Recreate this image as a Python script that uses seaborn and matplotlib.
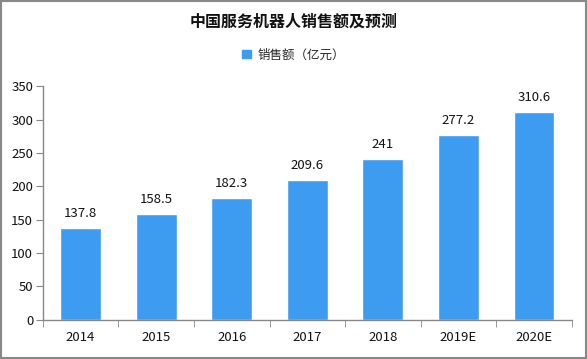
import matplotlib
matplotlib.use("Agg")
import matplotlib.pyplot as plt
import seaborn as sns
import pandas as pd
from matplotlib.patches import Rectangle

years = ["2014", "2015", "2016", "2017", "2018", "2019E", "2020E"]
sales = [137.8, 158.5, 182.3, 209.6, 241, 277.2, 310.6]
labels = ["137.8", "158.5", "182.3", "209.6", "241", "277.2", "310.6"]

sns.set_style("white")
plt.rcParams['font.family'] = ['Noto Sans CJK SC', 'DejaVu Sans']

df = pd.DataFrame({"year": years, "sales": sales})

fig = plt.figure(figsize=(5.87, 3.59), dpi=100)
ax = fig.add_axes([0.073, 0.109, 0.901, 0.651])

bar_color = "#3d9cf0"
sns.barplot(data=df, x="year", y="sales", color=bar_color, width=0.54,
            saturation=1, ax=ax, label="销售额（亿元）")

for i, (v, t) in enumerate(zip(sales, labels)):
    ax.text(i, v + 12, t, ha="center", va="bottom", fontsize=9.5, color="#111111")

ax.set_ylim(0, 350)
ax.set_xlim(-0.5, 6.5)
ax.set_yticks(range(0, 351, 50))
ax.set_xlabel("")
ax.set_ylabel("")

for s in ["top", "right"]:
    ax.spines[s].set_visible(False)
for s in ["left", "bottom"]:
    ax.spines[s].set_color("#888888")
    ax.spines[s].set_linewidth(1)

ax.tick_params(axis="y", which="major", length=5, color="#888888", labelsize=9.5,
               labelcolor="#111111", left=True, pad=2)
ax.tick_params(axis="x", which="major", length=0, labelsize=9.5, labelcolor="#111111", pad=8)
ax.set_xticks([i + 0.5 for i in range(-1, 7)], minor=True)
ax.tick_params(axis="x", which="minor", length=5, color="#888888", bottom=True)

fig.text(0.5, 0.939, "中国服务机器人销售额及预测", ha="center", va="center",
         fontsize=11.5, fontweight="bold", color="#111111")

fig.legend(handles=[Rectangle((0, 0), 1, 1, color=bar_color)],
           labels=["销售额（亿元）"], loc="center", bbox_to_anchor=(0.5, 0.847),
           frameon=False, fontsize=9, handlelength=0.7, handleheight=0.7,
           handletextpad=0.5)
if ax.get_legend() is not None:
    ax.get_legend().remove()

fig.patches.append(Rectangle((0.001, 0.002), 0.997, 0.996, transform=fig.transFigure,
                             fill=False, edgecolor="#888888", linewidth=1.5))

fig.savefig("out.png", dpi=100)
